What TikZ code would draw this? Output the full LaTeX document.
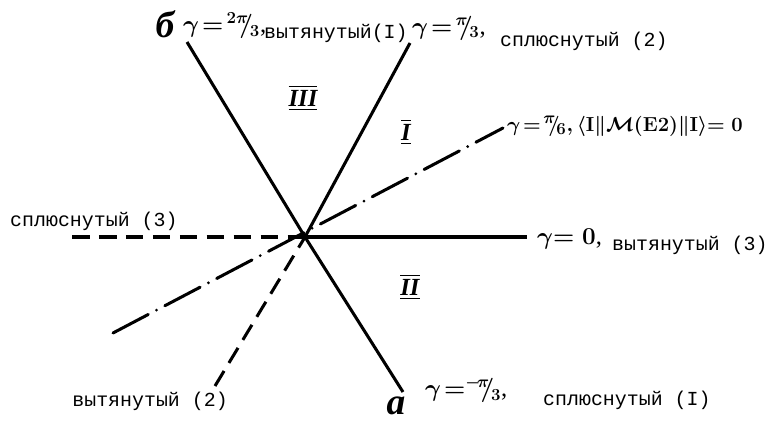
\documentclass[tikz,border=0pt]{standalone}
\usepackage{amsmath}
\usepackage{fontspec}
\setmainfont{Liberation Serif}
\newfontfamily\typefont{Liberation Mono}
\usetikzlibrary{positioning}
\def\gamlab#1{$\boldsymbol{\gamma}\!=\!{}^{\boldsymbol{#1}}\!\!/_{\!\mathbf{3}}$}
\def\roman#1{$\overline{\underline{\mathit{#1}}}$}

\begin{document}
\begin{tikzpicture}[x=0.03cm, y=-0.03cm,
  axis/.style={line width=2.6pt},
  dashaxis/.style={line width=2.6pt, dash pattern=on 15pt off 8pt},
  dotaxis/.style={line width=2.6pt, line cap=round, dash pattern=on 34pt off 8pt on 0pt off 8pt},
  typed/.style={font=\typefont\fontsize{17}{19}\selectfont, inner sep=0pt},
  hand/.style={font=\fontsize{21}{23}\selectfont\boldmath, inner sep=0pt},
  letter/.style={font=\fontsize{32}{34}\selectfont\itshape\bfseries, inner sep=0pt},
  region/.style={font=\fontsize{21}{23}\selectfont\boldmath, inner sep=0pt}]
  \useasboundingbox (0,0) rectangle (777,421);

  % centre and ends of the axes
  \coordinate (O) at (305,237);
  \coordinate (ul) at (187,42);
  \coordinate (ur) at (410,43);
  \coordinate (dr) at (503,128);
  \coordinate (r) at (527,237);
  \coordinate (l) at (72,237);
  \coordinate (dl) at (113,333);
  \coordinate (dd) at (215,386);
  \coordinate (lr) at (403,392);

  \draw[axis] (O) -- (ul);
  \draw[axis] (O) -- (ur);
  \draw[axis] (O) -- (r);
  \draw[axis] (O) -- (lr);
  \draw[dotaxis] (dl) -- (dr);
  \draw[dashaxis] (l) -- (O);
  \draw[dashaxis] (dd) -- (O);

  % labels
  \node[letter] (b) at (165,24) {б};
  \node[hand, anchor=west] (g23) at (183,26) {\gamlab{2\pi},};
  \node[typed, anchor=base west] (ext1) at (264,38) {вытянутый(I)};
  \node[hand, anchor=west] (g13) at (412,28) {\gamlab{\pi},};
  \node[typed, anchor=base west] (obl2) at (500,46) {сплюснутый (2)};
  \node[hand, anchor=west, font=\fontsize{19}{21}\selectfont\boldmath] (g16) at (507,126)
    {$\boldsymbol{\gamma}\!=\!{}^{\boldsymbol{\pi}}\!\!/_{\!\mathbf{6}},
      \boldsymbol{\langle} \mathbf{I}\|\mathcal{M}(\mathbf{E2})\|\mathbf{I}\boldsymbol{\rangle}\mathbf{=0}$};
  \node[hand, anchor=west] (g0) at (537,239) {$\boldsymbol{\gamma}\mathbf{=0}$,};
  \node[typed, anchor=base west] (ext3) at (612,250) {вытянутый (3)};
  \node[typed, anchor=base west] (obl3) at (10,226) {сплюснутый (3)};
  \node[typed, anchor=base east] (ext2) at (228,406) {вытянутый (2)};
  \node[letter] (a) at (396,406) {а};
  \node[hand, anchor=west] (gm13) at (425,390) {\gamlab{\!-\!\pi},};
  \node[typed, anchor=base west] (obl1) at (543,405) {сплюснутый (I)};

  % regions
  \node[region] (r3) at (303,98) {\roman{III}};
  \node[region] (r1) at (406,132) {\roman{I}};
  \node[region] (r2) at (410,287) {\roman{II}};
\end{tikzpicture}
\end{document}
